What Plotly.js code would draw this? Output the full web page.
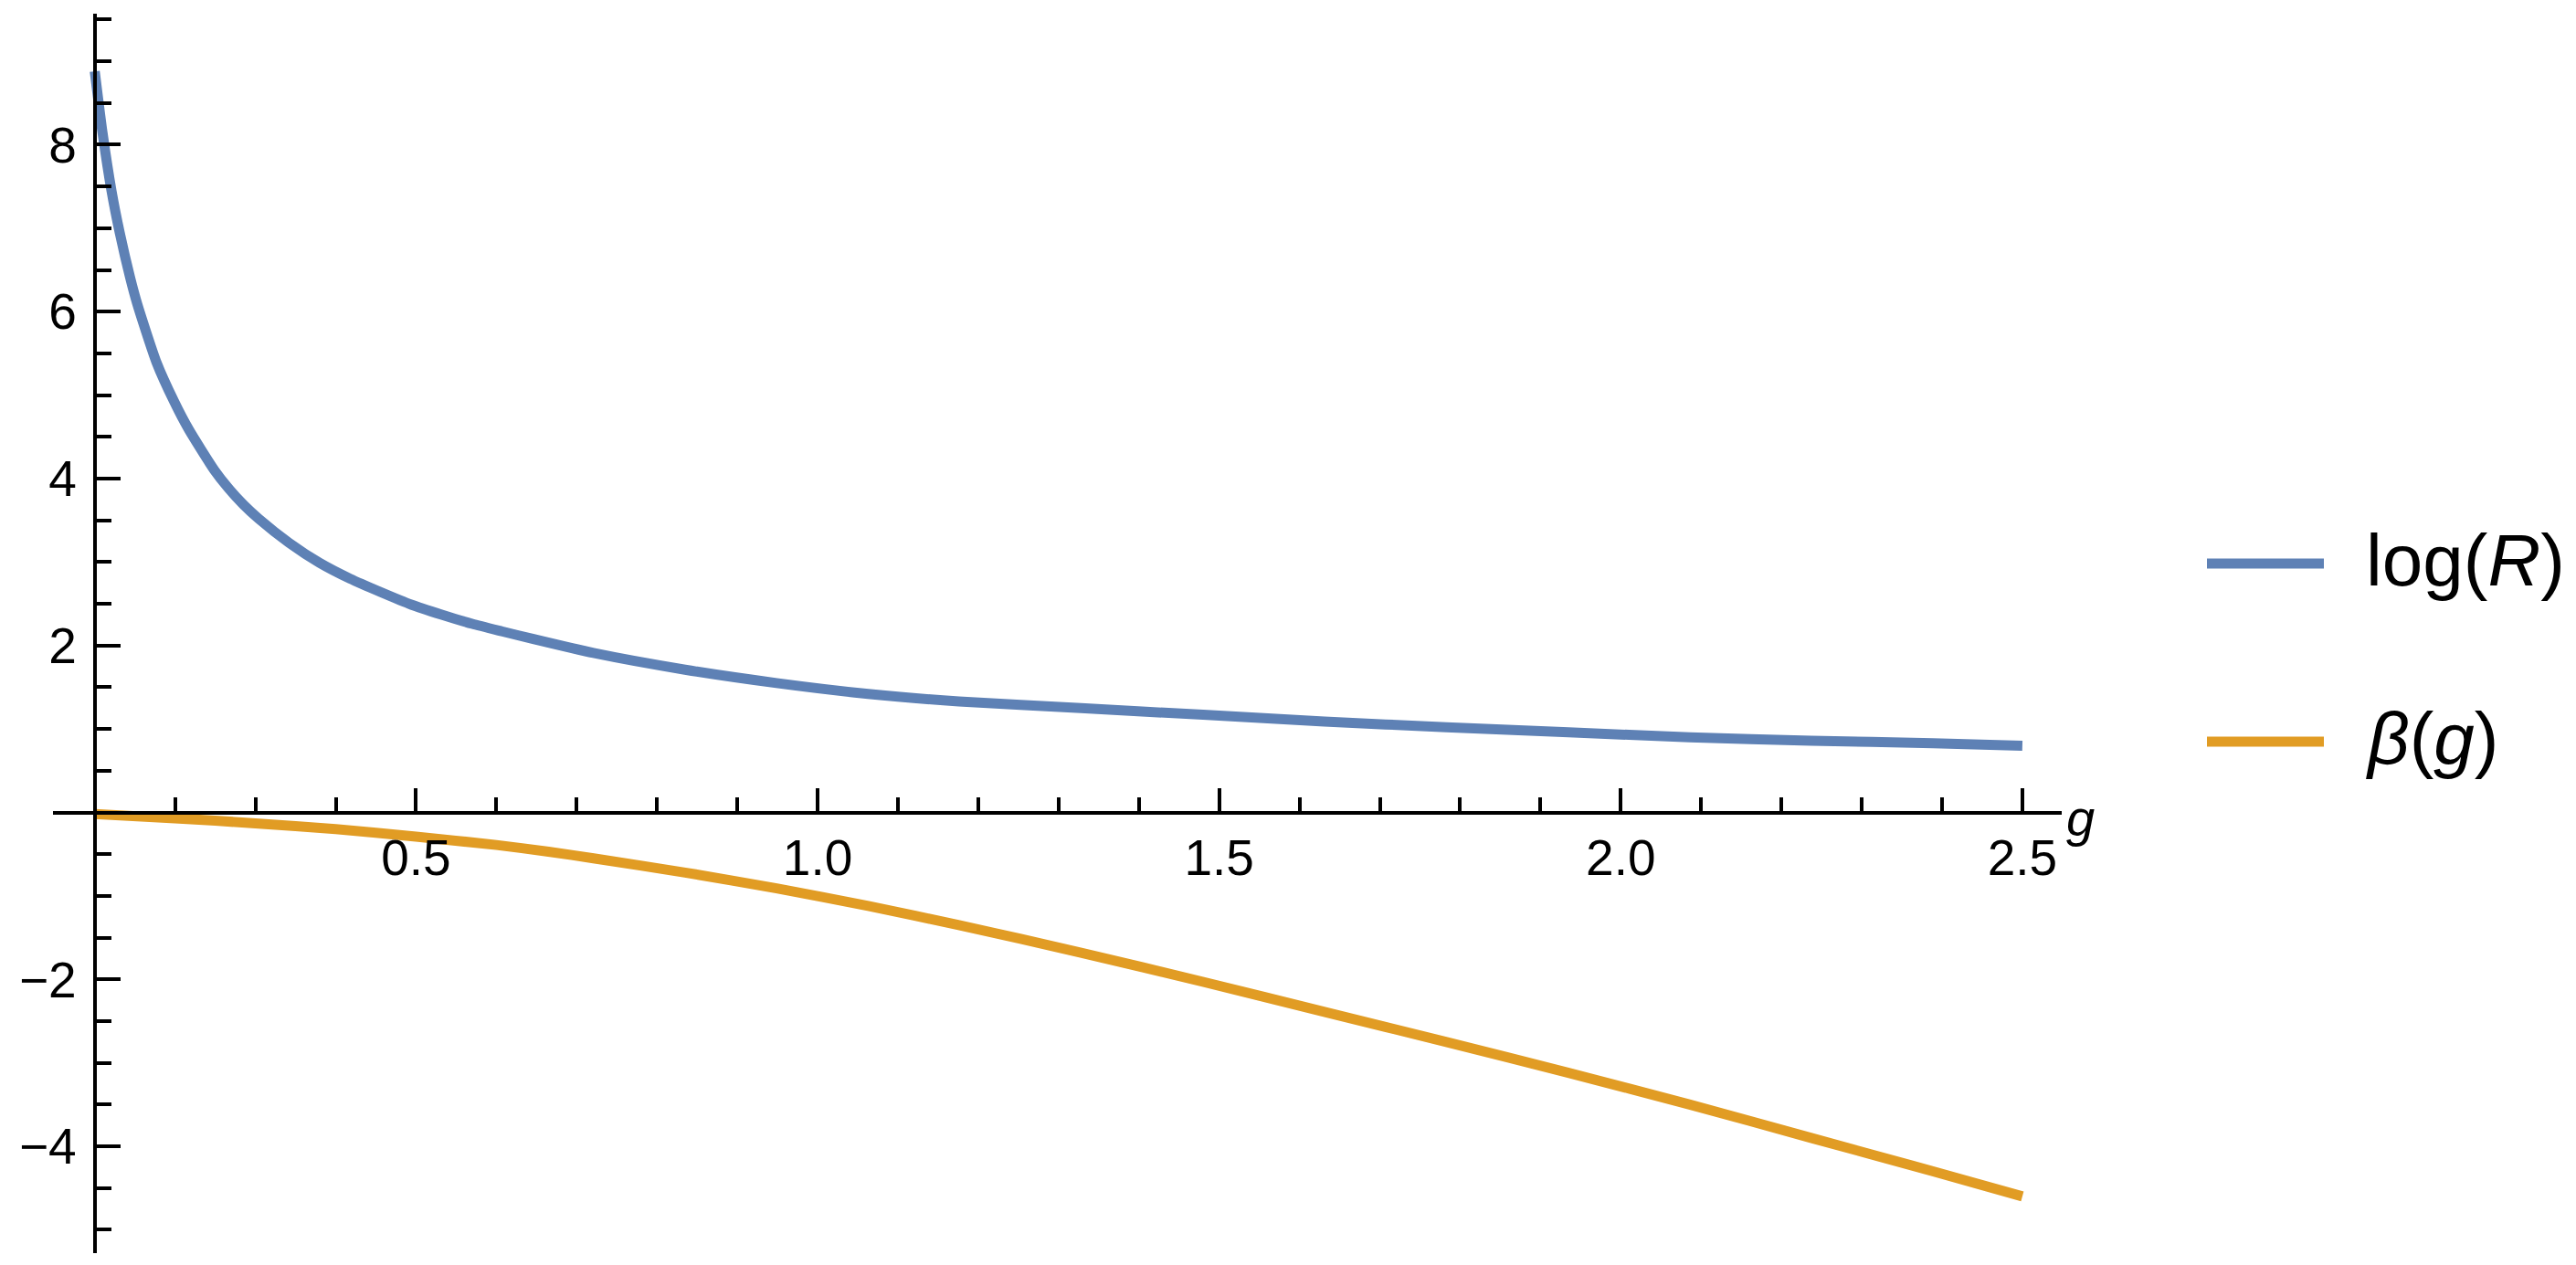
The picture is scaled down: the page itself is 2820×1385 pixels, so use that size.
<!DOCTYPE html>
<html>
<head>
<meta charset="utf-8">
<script src="https://cdn.plot.ly/plotly-3.0.1.min.js"></script>
<style>
html, body { margin: 0; padding: 0; background: #ffffff; }
#chart { width: 2820px; height: 1385px; }
</style>
</head>
<body>
<div id="chart"></div>
<script>
// ---- data ----
const gLogR = [0.100, 0.1096, 0.121, 0.131, 0.144, 0.153, 0.177, 0.199, 0.217, 0.249, 0.266, 0.285, 0.304, 0.342, 0.380, 0.418, 0.456, 0.494, 0.532, 0.570, 0.607, 0.645, 0.721, 0.835, 0.949, 1.063, 1.176, 1.328, 1.480, 1.631, 1.783, 1.935, 2.086, 2.237, 2.389, 2.500];
const logR  = [8.88, 8.15, 7.44, 6.95, 6.41, 6.09, 5.39, 4.92, 4.59, 4.10, 3.89, 3.69, 3.52, 3.23, 2.99, 2.80, 2.64, 2.49, 2.37, 2.26, 2.17, 2.08, 1.91, 1.71, 1.55, 1.42, 1.33, 1.25, 1.17, 1.09, 1.02, 0.96, 0.90, 0.86, 0.83, 0.80];

const gBeta = [0.100, 0.200, 0.300, 0.400, 0.500, 0.600, 0.665, 0.721, 0.835, 0.949, 1.063, 1.176, 1.328, 1.480, 1.631, 1.783, 1.935, 2.086, 2.237, 2.389, 2.500];
const beta  = [-0.02, -0.07, -0.13, -0.20, -0.29, -0.39, -0.47, -0.55, -0.72, -0.91, -1.12, -1.35, -1.68, -2.03, -2.39, -2.75, -3.12, -3.50, -3.90, -4.30, -4.60];

const seriesNames = ["log(<i>R</i>)", "<i>\u03B2</i>(<i>g</i>)"];
const seriesColors = ["#5E81B5", "#E19C24"];

const xTickVals = [0.5, 1.0, 1.5, 2.0, 2.5];
const xTickText = ["0.5", "1.0", "1.5", "2.0", "2.5"];
const yTickVals = [-4, -2, 2, 4, 6, 8];
const yTickText = ["\u22124", "\u22122", "2", "4", "6", "8"];
const xAxisLabel = "<i>g</i>";

// ---- layout constants ----
const W = 2820, H = 1385;
const M = { l: 58, r: 563, t: 15, b: 13 };
const xRange = [0.048, 2.549];
const yRange = [-5.28, 9.57];
const axisCrossX = 0.1;   // vertical axis drawn at g = 0.1
const axisCrossY = 0;     // horizontal axis drawn at 0
const FONT = "Liberation Sans, Arial, Helvetica, sans-serif";

const plotW = W - M.l - M.r, plotH = H - M.t - M.b;
const pxToPaperX = px => (px - M.l) / plotW;
const pxToPaperY = py => (H - M.b - py) / plotH;

const traces = [
  { x: gLogR, y: logR, name: seriesNames[0], type: "scatter", mode: "lines",
    line: { color: seriesColors[0], width: 11, shape: "spline", smoothing: 0.6 }, showlegend: false },
  { x: gBeta, y: beta, name: seriesNames[1], type: "scatter", mode: "lines",
    line: { color: seriesColors[1], width: 11, shape: "spline", smoothing: 0.6 }, showlegend: false }
];

const legendRows = [617, 812];       // pixel rows of legend samples
const legendLineX = [2416, 2544];
const legendTextX = 2588;

const shapes = legendRows.map((py, i) => ({
  type: "line", xref: "paper", yref: "paper",
  x0: pxToPaperX(legendLineX[0]), x1: pxToPaperX(legendLineX[1]),
  y0: pxToPaperY(py), y1: pxToPaperY(py),
  line: { color: seriesColors[i], width: 11 }
}));

const annotations = legendRows.map((py, i) => ({
  xref: "paper", yref: "paper",
  x: pxToPaperX(legendTextX), y: pxToPaperY(py),
  xanchor: "left", yanchor: "middle", yshift: 4,
  text: seriesNames[i], showarrow: false,
  font: { family: FONT, size: 80, color: "#000" }
}));
annotations.push({
  xref: "paper", yref: "y", x: pxToPaperX(2277), y: axisCrossY,
  xanchor: "center", yanchor: "middle", yshift: -6,
  text: xAxisLabel, showarrow: false,
  font: { family: FONT, size: 56, color: "#000" }
});

const layout = {
  width: W, height: H,
  margin: M,
  paper_bgcolor: "#ffffff", plot_bgcolor: "#ffffff",
  font: { family: FONT, size: 55, color: "#000" },
  showlegend: false,
  xaxis: {
    range: xRange, anchor: "free",
    position: (axisCrossY - yRange[0]) / (yRange[1] - yRange[0]),
    showgrid: false, zeroline: false,
    showline: true, linecolor: "#000", linewidth: 4,
    tickmode: "array", tickvals: xTickVals, ticktext: xTickText,
    ticks: "inside", ticklen: 25, tickwidth: 4, tickcolor: "#000",
    ticklabelstandoff: 0,
    tickfont: { family: FONT, size: 55, color: "#000" },
    minor: { tickmode: "linear", tick0: 0, dtick: 0.1, ticks: "inside", ticklen: 15, tickwidth: 4, tickcolor: "#000", showgrid: false }
  },
  yaxis: {
    range: yRange, anchor: "free",
    position: (axisCrossX - xRange[0]) / (xRange[1] - xRange[0]),
    showgrid: false, zeroline: false,
    showline: true, linecolor: "#000", linewidth: 4,
    tickmode: "array", tickvals: yTickVals, ticktext: yTickText,
    ticks: "inside", ticklen: 26, tickwidth: 4, tickcolor: "#000",
    ticklabelstandoff: 7,
    tickfont: { family: FONT, size: 55, color: "#000" },
    minor: { tickmode: "linear", tick0: 0, dtick: 0.5, ticks: "inside", ticklen: 16, tickwidth: 4, tickcolor: "#000", showgrid: false }
  },
  shapes: shapes,
  annotations: annotations
};

Plotly.newPlot("chart", traces, layout, { staticPlot: true, displayModeBar: false });
</script>
</body>
</html>
